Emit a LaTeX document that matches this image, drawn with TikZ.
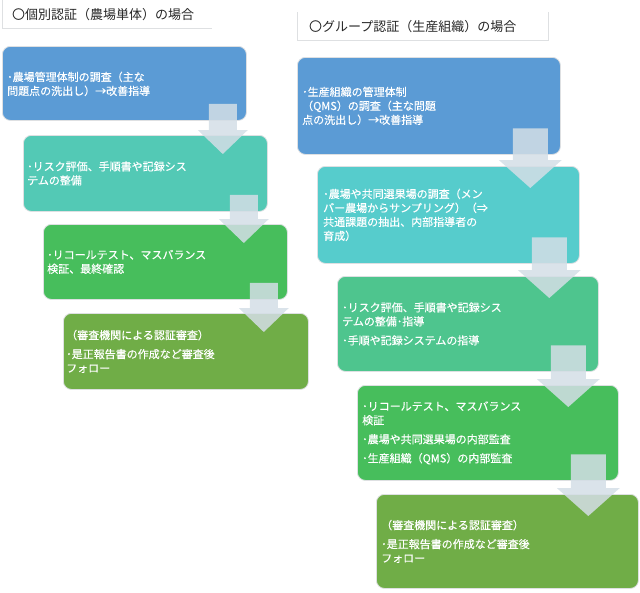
\documentclass[tikz,border=0pt]{standalone}
\usepackage{fontspec}
\setmainfont{Noto Sans CJK JP}
\newfontfamily\boxfont[FakeBold=0.35]{Noto Sans CJK JP}
\usetikzlibrary{calc}
\definecolor{cblue}{RGB}{91,155,213}
\definecolor{cteal}{RGB}{83,201,181}
\definecolor{ccyan}{RGB}{86,204,204}
\definecolor{cmint}{RGB}{78,197,142}
\definecolor{cgreen}{RGB}{71,190,92}
\definecolor{colive}{RGB}{112,173,71}
\definecolor{carrow}{RGB}{212,222,230}
\definecolor{cline}{RGB}{222,224,226}
% #1 from, #2 to, #3 centre offset from right edge, #4 shaft half width,
% #5 head half width, #6 shaft top above bottom of #1, #7 head top above top of #2, #8 tip below top of #2
\newcommand{\blockarrow}[8]{%
  \fill[arrowfill] let \p1=(#1.south east), \p2=(#2.north) in
    (\x1-#3pt-#4pt,\y1+#6pt) -- (\x1-#3pt+#4pt,\y1+#6pt) --
    (\x1-#3pt+#4pt,\y2+#7pt) -- (\x1-#3pt+#5pt,\y2+#7pt) --
    (\x1-#3pt,\y2-#8pt) --
    (\x1-#3pt-#5pt,\y2+#7pt) -- (\x1-#3pt-#4pt,\y2+#7pt) -- cycle;}
\newcommand{\arrowL}[2]{\blockarrow{#1}{#2}{24}{14}{25}{17}{5}{19}}
\newcommand{\arrowR}[2]{\blockarrow{#1}{#2}{30.5}{17.5}{31.5}{26.5}{6}{22}}
\begin{document}
\begin{tikzpicture}[x=1pt,y=-1pt,
  box/.style={rounded corners=8pt, draw=cline, line width=0.8pt, inner sep=0pt, anchor=north west},
  frame/.style={inner sep=0pt, anchor=north west},
  frameline/.style={draw=cline, line width=0.8pt},
  txt/.style={text=white, font=\boxfont\fontsize{11pt}{14pt}\selectfont, align=left, inner sep=0pt, anchor=west},
  ttl/.style={font=\fontsize{13pt}{16pt}\selectfont, text=black!85, inner sep=0pt, anchor=west},
  arrowfill/.style={fill=carrow, fill opacity=0.85}]
\useasboundingbox (0,0) rectangle (640,592);

% titles
\node[frame, minimum width=210pt, minimum height=28pt] (t1) at (2,0) {};
\draw[frameline] (t1.north west) -- (t1.south west) -- (t1.south east);
\node[ttl] (t1t) at ([xshift=10pt]t1.west) {〇個別認証（農場単体）の場合};
\node[frame, minimum width=251pt, minimum height=28pt] (t2) at (297,12) {};
\draw[frameline] (t2.north west) -- (t2.south west) -- (t2.south east) -- (t2.north east);
\node[ttl] (t2t) at ([xshift=12pt]t2.west) {〇グループ認証（生産組織）の場合};

% left column boxes
\node[box, fill=cblue,  minimum width=244pt, minimum height=74pt] (a1) at (2,46) {};
\node[box, fill=cteal,  minimum width=244pt, minimum height=76pt] (a2) at (23,135) {};
\node[box, fill=cgreen, minimum width=244pt, minimum height=75pt] (a3) at (43,224) {};
\node[box, fill=colive, minimum width=245pt, minimum height=76pt] (a4) at (63,313) {};

% right column boxes
\node[box, fill=cblue,  minimum width=263pt, minimum height=97pt] (b1) at (297,57) {};
\node[box, fill=ccyan,  minimum width=262pt, minimum height=97pt] (b2) at (317,166) {};
\node[box, fill=cmint,  minimum width=261pt, minimum height=95pt] (b3) at (337,276) {};
\node[box, fill=cgreen, minimum width=261pt, minimum height=95pt] (b4) at (357,385) {};
\node[box, fill=colive, minimum width=262pt, minimum height=94pt] (b5) at (376,494) {};

% left texts
\node[txt] (a1t) at ([xshift=5pt,yshift=-0.5pt]a1.west) {･農場管理体制の調査（主な\\問題点の洗出し）→改善指導};
\node[txt] (a2t) at ([xshift=4pt]a2.west) {･リスク評価、手順書や記録シス\\テムの整備};
\node[txt] (a3t) at ([xshift=4pt]a3.west) {･リコールテスト、マスバランス\\検証、最終確認};
\node[txt] (a4t) at ([xshift=3pt]a4.west) {（審査機関による認証審査）\\[5pt]･是正報告書の作成など審査後\\フォロー};

% right texts
\node[txt] (b1t) at ([xshift=5pt]b1.west) {･生産組織の管理体制\\（QMS）の調査（主な問題\\点の洗出し）→改善指導};
\node[txt] (b2t) at ([xshift=6pt]b2.west) {･農場や共同選果場の調査（メン\\バー農場からサンプリング）（⇒\\共通課題の抽出、内部指導者の\\育成）};
\node[txt] (b3t) at ([xshift=5pt]b3.west) {･リスク評価、手順書や記録シス\\テムの整備･指導\\[5pt]･手順や記録システムの指導};
\node[txt] (b4t) at ([xshift=5pt]b4.west) {･リコールテスト、マスバランス\\検証\\[5pt]･農場や共同選果場の内部監査\\[5pt]･生産組織（QMS）の内部監査};
\node[txt] (b5t) at ([xshift=5pt]b5.west) {（審査機関による認証審査）\\[5pt]･是正報告書の作成など審査後\\フォロー};

% block arrows
\arrowL{a1}{a2}
\arrowL{a2}{a3}
\arrowL{a3}{a4}
\arrowR{b1}{b2}
\arrowR{b2}{b3}
\arrowR{b3}{b4}
\arrowR{b4}{b5}
\end{tikzpicture}
\end{document}
